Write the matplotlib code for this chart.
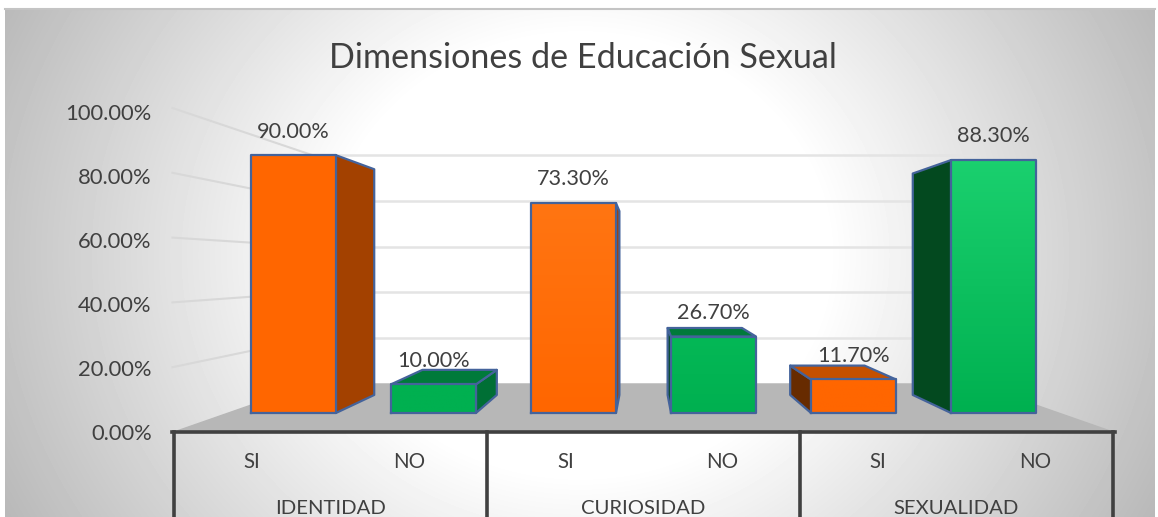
import numpy as np
import matplotlib
matplotlib.use('Agg')
import matplotlib.pyplot as plt
from matplotlib.colors import LinearSegmentedColormap

plt.rcParams['font.family'] = ['Lato', 'DejaVu Sans']

title = 'Dimensiones de Educación Sexual'
groups = ['IDENTIDAD', 'CURIOSIDAD', 'SEXUALIDAD']
answers = ['SI', 'NO', 'SI', 'NO', 'SI', 'NO']
values = [90.0, 10.0, 73.3, 26.7, 11.7, 88.3]
y_ticks = [0, 20, 40, 60, 80, 100]

W, H = 1158, 517
TXT = '#404040'
ORANGE = {'front': '#ff6600', 'top': '#c55000', 'right': '#a34100', 'left': '#672b00'}
GREEN = {'front': '#00b050', 'top': '#007a3a', 'right': '#006f35', 'left': '#03491f'}
face_top = ['#ff6600', '#00b050', '#ff7512', '#04b856', '#ff6600', '#1ad06e']

# perspective: everything shrinks towards the vanishing point
VX, VY = 3.0, 50.6
T_FRONT, T_BACK, T_WALL = 0.116, 0.226, 0.293
SPREAD = 1.012
HALF = 0.307


def proj(x, v, t):
    return x + t * (VX - x), v + t * (VY - v)


def quad(ax, pts, color, z):
    xs, ys = zip(*pts)
    ax.fill(xs, ys, facecolor=color, edgecolor='#44639b', lw=1.6, joinstyle='round',
            clip_on=False, zorder=z)


fig = plt.figure(figsize=(W / 100, H / 100), dpi=100)

#--- fond en degrade ---
bg = fig.add_axes([0, 0, 1, 1])
bg.set_xlim(0, W)
bg.set_ylim(H, 0)
bg.axis('off')
yy, xx = np.mgrid[9:H, 5:1155]
d = np.sqrt(((xx - 580) / 575.0) ** 2 + ((yy - 255) / 510.0) ** 2)
shade = 1 - 0.40 * np.clip(d - 0.43, 0, None)
grey_map = LinearSegmentedColormap.from_list('g', ['#000000', '#ffffff'])
bg.imshow(shade, extent=(5, 1155, H, 9), cmap=grey_map, vmin=0, vmax=1, aspect='auto')
bg.set_xlim(0, W)
bg.set_ylim(H, 0)
bg.plot([5, 1155], [9, 9], color='#c4c4c4', lw=1.5)

#--- axes : le plan avant du graphique ---
ax = fig.add_axes([174 / W, 1 - 432 / H, 939 / W, 324 / H])
ax.patch.set_alpha(0)
ax.set_xlim(0, 6)
ax.set_ylim(0, 100)
for s in ax.spines.values():
    s.set_visible(False)
ax.set_xticks([])
ax.set_yticks(np.array(y_ticks) * 0.988, ['{:.2f}%'.format(t) for t in y_ticks])
ax.tick_params(axis='y', length=0, pad=16, labelsize=15.8, labelcolor=TXT)

# sol
floor = [proj(0, 0, 0), proj(6, 0, 0), proj(6, 0, T_WALL), proj(0, 0, T_WALL)]
ax.fill(*zip(*floor), color='#b7b7b7', clip_on=False, zorder=1)

# grille : mur du fond et mur gauche
for t in y_ticks[1:]:
    x0, y0 = proj(0, t, T_WALL)
    x1, y1 = proj(6, t, T_WALL)
    ax.plot([x0, x1], [y0, y1], color='#e4e4e4', lw=1.8, clip_on=False, zorder=1)
    xa, ya = proj(-0.01, t, 0)
    ax.plot([xa, x0], [ya, y0], color='#d8d8d8', lw=1.5, clip_on=False, zorder=1)

# barres
for i, v in enumerate(values):
    pal = ORANGE if i % 2 == 0 else GREEN
    c = VX + (i - 2.5) * SPREAD
    l, r = c - HALF, c + HALF
    fl, fb = proj(l, v, T_FRONT)
    fr, _ = proj(r, v, T_FRONT)
    _, fz = proj(l, 0, T_FRONT)
    if r < VX:
        quad(ax, [proj(r, 0, T_FRONT), proj(r, v, T_FRONT), proj(r, v, T_BACK), proj(r, 0, T_BACK)],
             pal['right'], 3)
    if l > VX:
        quad(ax, [proj(l, 0, T_FRONT), proj(l, v, T_FRONT), proj(l, v, T_BACK), proj(l, 0, T_BACK)],
             pal['left'], 3)
    if v < VY:
        quad(ax, [proj(l, v, T_FRONT), proj(r, v, T_FRONT), proj(r, v, T_BACK), proj(l, v, T_BACK)],
             pal['top'], 3)
    cm = LinearSegmentedColormap.from_list('f', [pal['front'], face_top[i]])
    ax.imshow(np.linspace(1, 0, 64).reshape(-1, 1), extent=(fl, fr, fz, fb), cmap=cm,
              vmin=0, vmax=1, aspect='auto', zorder=4, clip_on=False)
    ax.plot([fl, fr, fr, fl, fl], [fz, fz, fb, fb, fz], color='#44639b', lw=1.6,
            clip_on=False, zorder=5)
    ax.annotate('{:.2f}%'.format(v), xy=((fl + fr) / 2, fb), xytext=(0, 17),
                textcoords='offset points', ha='center', va='center',
                fontsize=15.6, color=TXT, zorder=6, annotation_clip=False)
ax.set_xlim(0, 6)
ax.set_ylim(0, 100)

# tableau des categories sous l'axe
ax.plot([-0.012, 6.012], [0, 0], color=TXT, lw=2.6, clip_on=False, zorder=6)
for g in range(len(groups) + 1):
    ax.plot([g * 2, g * 2], [0, -26], color=TXT, lw=2.6, clip_on=False, zorder=6)
for i, a in enumerate(answers):
    ax.text(i + 0.5, -9.2, a, ha='center', va='center', fontsize=14.8, color=TXT, clip_on=False)
for g, name in enumerate(groups):
    ax.text(g * 2 + 1, -23.6, name, ha='center', va='center', fontsize=14.6, color=TXT, clip_on=False)

fig.text(582.5 / W, 1 - 58 / H, title, ha='center', va='center', fontsize=24.6, color=TXT)

fig.savefig('out.png', dpi=100)
